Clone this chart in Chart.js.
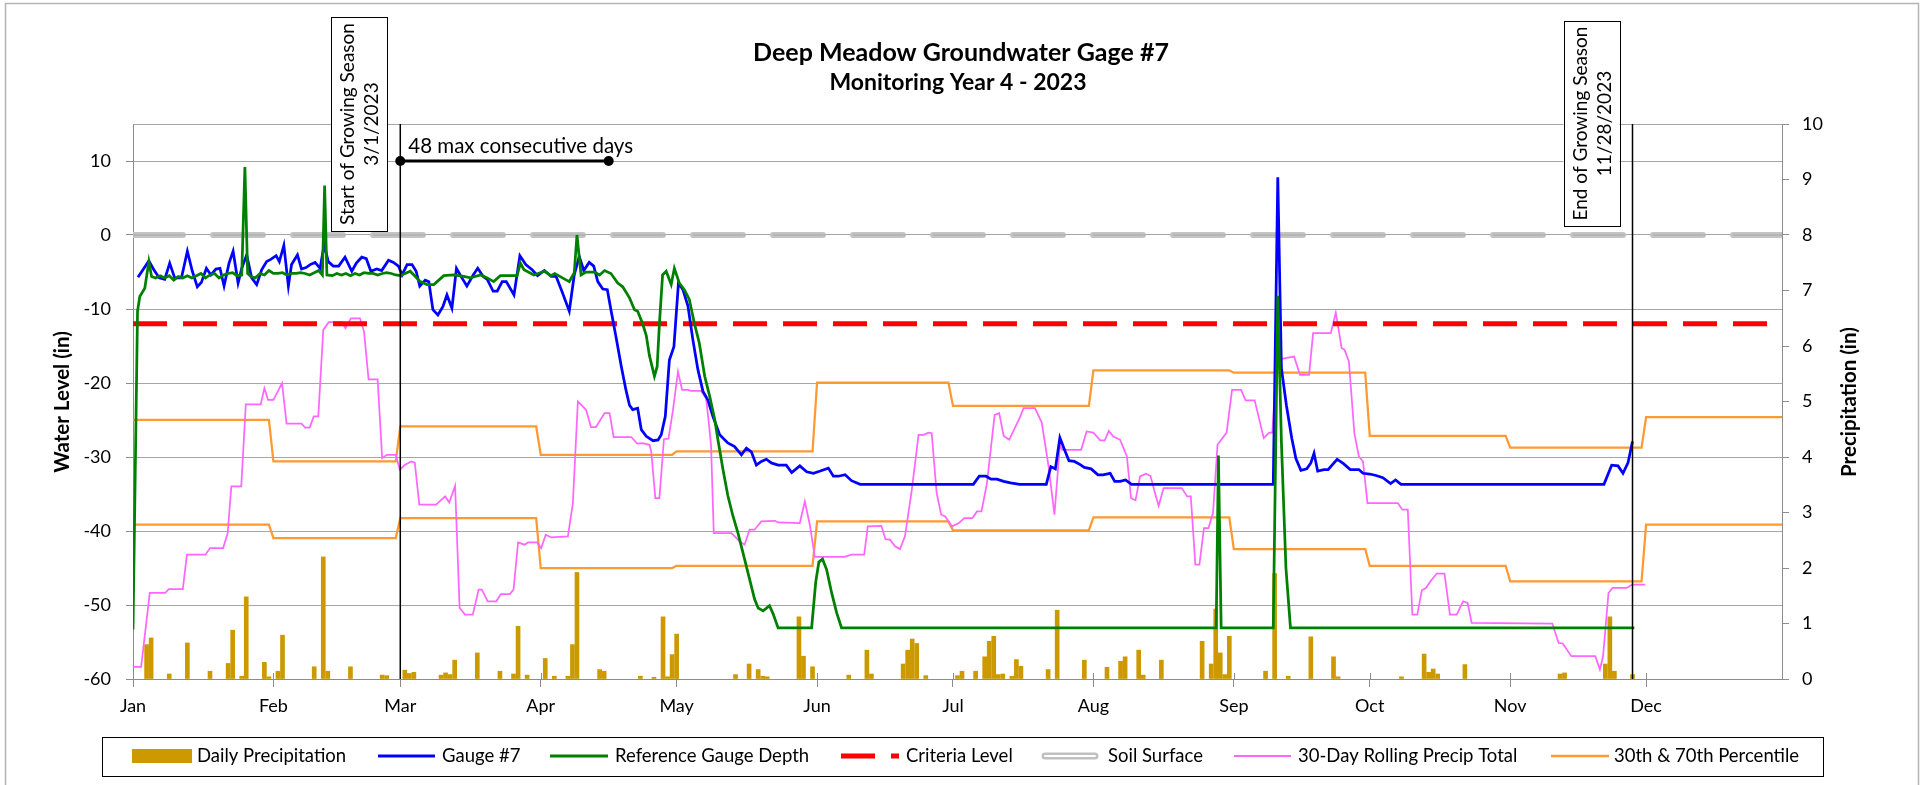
<!DOCTYPE html>
<html>
<head>
<meta charset="utf-8">
<title>Deep Meadow Groundwater Gage #7</title>
<script src="https://cdn.jsdelivr.net/npm/chart.js@4.4.1/dist/chart.umd.min.js"></script>
<style>
  html, body { margin: 0; padding: 0; background: #fff; }
  #wrap { width: 1929px; height: 785px; position: relative; }
</style>
</head>
<body>
<div id="wrap"><canvas id="gage"></canvas></div>
<script>
// x values are day-of-year offsets (0 = Jan 1, 2023)
const monthStarts = [0, 31, 59, 90, 120, 151, 181, 212, 243, 273, 304, 334];
const monthLabels = ['Jan', 'Feb', 'Mar', 'Apr', 'May', 'Jun', 'Jul', 'Aug', 'Sep', 'Oct', 'Nov', 'Dec'];

const gaugeDays = [1.1, 3.5, 4.6, 5.8, 7.0, 8.1, 9.2, 10.7, 12.0, 13.1, 14.2, 15.1, 16.2, 17.2, 18.3, 19.2, 20.1, 21.2, 22.1, 23.2, 24.0, 25.1, 26.2, 27.3, 28.4, 29.5, 30.4, 31.6, 32.3, 33.3, 34.3, 35.0, 36.3, 37.2, 38.2, 39.1, 40.2, 41.3, 42.2, 43.1, 44.2, 45.4, 46.8, 48.3, 49.3, 50.5, 51.5, 52.5, 53.8, 54.9, 56.4, 57.5, 58.6, 59.4, 60.5, 61.6, 62.5, 63.3, 64.5, 65.3, 66.2, 67.3, 68.4, 69.3, 70.4, 71.4, 72.6, 73.7, 75.1, 76.1, 77.3, 78.2, 79.5, 80.4, 81.5, 82.4, 84.1, 85.4, 86.7, 88.1, 89.3, 90.8, 92.3, 93.4, 94.8, 96.3, 97.4, 98.5, 99.5, 100.7, 101.7, 102.6, 103.7, 104.7, 105.5, 106.6, 107.8, 108.8, 109.6, 110.3, 111.4, 112.2, 113.3, 114.8, 115.9, 116.6, 117.5, 118.4, 119.4, 120.4, 121.4, 122.5, 123.6, 124.7, 125.8, 126.9, 128.0, 129.5, 131.3, 132.8, 134.3, 135.4, 136.5, 137.6, 138.7, 139.8, 140.9, 142.4, 144.2, 145.4, 147.2, 148.7, 150.2, 151.7, 153.5, 154.6, 155.7, 157.2, 158.6, 160.5, 185.5, 186.8, 188.3, 189.4, 190.7, 192.2, 193.7, 195.7, 201.6, 202.6, 203.6, 204.6, 205.6, 206.6, 207.8, 209.0, 210.0, 211.5, 213.0, 214.1, 215.7, 216.7, 217.9, 219.1, 220.4, 251.7, 252.7, 253.5, 254.6, 255.8, 256.7, 257.8, 259.1, 260.0, 260.7, 261.5, 262.9, 263.8, 265.8, 267.2, 268.7, 270.6, 271.5, 273.0, 274.4, 275.9, 277.6, 278.7, 279.9, 324.7, 326.4, 327.8, 328.9, 330.0, 331.0];
const gaugeLevels = [-5.7, -3.5, -4.7, -5.8, -6.0, -3.8, -5.8, -5.8, -2.2, -4.9, -7.0, -6.4, -4.5, -5.4, -4.6, -4.5, -6.9, -3.8, -2.2, -6.5, -4.5, -2.7, -5.8, -6.7, -4.7, -3.6, -3.3, -2.8, -3.6, -1.4, -6.9, -4.0, -2.7, -4.6, -4.4, -4.0, -3.7, -4.5, -1.3, -3.6, -4.2, -4.2, -3.0, -4.9, -3.8, -3.0, -3.2, -4.9, -4.6, -4.8, -3.4, -3.7, -4.2, -5.4, -4.0, -4.0, -4.9, -6.9, -6.1, -6.3, -10.1, -10.8, -9.7, -8.1, -9.9, -4.5, -5.8, -6.9, -5.4, -4.5, -5.6, -6.0, -7.6, -7.6, -6.3, -6.3, -8.1, -2.8, -4.0, -4.7, -5.5, -4.8, -5.6, -5.6, -7.8, -10.3, -5.4, -2.9, -4.8, -3.7, -4.2, -6.3, -7.3, -7.4, -10.1, -13.7, -17.8, -20.9, -23.0, -23.6, -23.4, -26.3, -27.2, -27.8, -27.7, -27.0, -24.5, -16.9, -15.1, -6.5, -7.4, -9.6, -14.2, -18.2, -21.1, -22.3, -24.5, -27.0, -28.1, -28.6, -29.7, -28.8, -29.3, -31.1, -30.6, -30.3, -30.8, -31.1, -31.1, -32.1, -31.2, -32.0, -32.2, -31.9, -31.5, -32.6, -32.6, -32.4, -33.2, -33.7, -33.7, -32.6, -32.6, -33.0, -33.0, -33.3, -33.5, -33.7, -33.7, -31.3, -31.6, -27.4, -29.0, -30.5, -30.6, -31.0, -31.4, -31.6, -32.4, -32.4, -32.2, -33.3, -33.3, -33.1, -33.7, -33.7, 7.8, -18.0, -23.0, -27.5, -30.2, -31.8, -31.6, -30.8, -29.5, -31.9, -31.7, -31.7, -30.3, -30.9, -31.7, -31.7, -32.2, -32.3, -32.5, -32.8, -33.6, -33.1, -33.7, -33.7, -31.1, -31.2, -32.2, -30.8, -27.9];

const refDays = [0, 1.0, 1.5, 2.6, 3.5, 4.1, 5, 6, 7, 8, 9, 10, 11, 12, 13, 14, 15, 16, 17, 18, 19, 20, 21, 22, 23, 24, 24.7, 25.3, 26, 27, 28, 29, 30, 31, 32, 33, 34, 35, 36, 37, 38, 39, 40, 41, 41.8, 42.3, 42.8, 44, 45, 46, 47, 48, 49, 50, 51, 52, 53, 54, 55, 56, 57, 58, 59, 61.2, 63.4, 64.9, 66.4, 67.5, 68.6, 70.8, 73, 74.5, 76.7, 78.2, 79.6, 81.1, 83.3, 84.8, 85.5, 86.3, 88.5, 90.8, 92.3, 93.1, 94.8, 96.3, 97.4, 98, 98.9, 100, 101.9, 103, 104.1, 105.5, 107, 108.1, 109.6, 110.7, 111.4, 112.5, 113.3, 114, 115.1, 115.7, 116.2, 116.9, 117.7, 118.8, 119.5, 120.6, 121.7, 122.8, 123.9, 125, 126.2, 127.3, 128.4, 129.1, 130.2, 131.3, 132.4, 133.5, 135, 136.1, 137.2, 138, 139.1, 140.5, 141.3, 142.4, 149.8, 150.7, 151.4, 152.2, 153.1, 154.2, 155.3, 156.4, 239.1, 239.6, 240.2, 251.7, 252.7, 253.5, 254.5, 255.5, 331.4];
const refLevels = [-53.3, -10.3, -8.3, -7.2, -3.6, -5.6, -5.8, -5.5, -5.8, -5.5, -6.1, -5.6, -5.8, -5.5, -5.8, -5.5, -5.2, -5.8, -5.4, -5.2, -5.8, -5.4, -5.2, -5.1, -5.5, -5.4, 9.2, -5.2, -5.6, -5.8, -5.2, -5.4, -4.8, -5.2, -5.2, -5.1, -5.4, -5.2, -5.2, -5.1, -5.2, -5.4, -5.1, -4.8, -5.4, 6.7, -5.4, -5.5, -5.2, -5.4, -5.2, -5.5, -5.2, -5.4, -5.1, -5.2, -5.2, -5.4, -5.2, -5.1, -5.2, -5.4, -5.5, -4.9, -6.3, -6.7, -6.7, -6.1, -5.5, -5.4, -5.6, -5.8, -5.4, -5.8, -6.3, -5.5, -5.5, -5.5, -3.8, -4.7, -5.4, -4.9, -5.5, -5.2, -5.8, -6.3, -5.1, 0, -5.4, -5.0, -5.0, -5.4, -4.8, -5.2, -6.5, -7.0, -8.5, -10.1, -10.3, -12.0, -13.6, -16.3, -19.1, -17.8, -12.0, -5.4, -4.9, -6.7, -4.5, -6.5, -7.4, -8.7, -11.9, -14.6, -19.1, -21.8, -24.9, -27.6, -31.6, -35.2, -37.9, -40.2, -43.8, -46.5, -49.2, -50.4, -50.8, -50.1, -51.2, -53.1, -53.1, -46.9, -44.2, -43.8, -45.2, -48.3, -51.0, -53.1, -53.1, -29.8, -53.1, -53.1, -8.2, -28.0, -45.0, -53.1, -53.1];

const precipDays = [3, 4, 8, 12, 17, 21, 22, 24, 25, 29, 30, 32, 33, 40, 42, 43, 48, 55, 56, 60, 61, 62, 68, 69, 70, 71, 76, 81, 84, 85, 87, 91, 93, 96, 97, 98, 103, 104, 112, 115, 117, 118, 119, 120, 133, 136, 138, 139, 140, 147, 148, 150, 158, 162, 163, 170, 171, 172, 173, 175, 182, 183, 186, 188, 189, 190, 191, 192, 194, 195, 196, 202, 204, 210, 215, 218, 219, 222, 223, 227, 236, 238, 239, 240, 241, 242, 250, 252, 255, 260, 265, 266, 280, 285, 286, 287, 288, 294, 315, 316, 325, 326, 327, 331];
const precipInches = [0.62, 0.74, 0.09, 0.65, 0.14, 0.28, 0.88, 0.05, 1.48, 0.30, 0.04, 0.14, 0.79, 0.22, 2.20, 0.14, 0.22, 0.07, 0.06, 0.16, 0.10, 0.12, 0.07, 0.11, 0.08, 0.34, 0.47, 0.14, 0.09, 0.95, 0.07, 0.37, 0.05, 0.05, 0.62, 1.92, 0.17, 0.14, 0.05, 0.03, 1.12, 0.04, 0.44, 0.81, 0.08, 0.27, 0.17, 0.05, 0.04, 1.12, 0.41, 0.22, 0.07, 0.52, 0.09, 0.27, 0.52, 0.72, 0.64, 0.06, 0.06, 0.14, 0.14, 0.40, 0.68, 0.77, 0.08, 0.09, 0.05, 0.35, 0.23, 0.17, 1.24, 0.34, 0.21, 0.32, 0.40, 0.52, 0.07, 0.34, 0.68, 0.27, 1.26, 0.47, 0.08, 0.77, 0.14, 1.90, 0.05, 0.76, 0.40, 0.04, 0.04, 0.45, 0.12, 0.18, 0.09, 0.26, 0.09, 0.11, 0.27, 1.12, 0.14, 0.08];

const rollDays = [0, 1.8, 3.7, 7.1, 7.9, 11, 11.9, 16, 17, 19.9, 20.9, 21.7, 23.9, 24.9, 28.2, 29, 29.8, 31, 32.9, 33.9, 37.2, 38, 39, 39.9, 40.9, 42, 43.2, 46.1, 46.9, 48.1, 50.1, 51, 52, 54, 55, 56, 58, 58.9, 59.9, 61.4, 62.2, 63.2, 66.9, 68.9, 69.8, 71.1, 72.1, 73.3, 75, 76.3, 77, 78.3, 80.2, 81.2, 83.2, 84, 85, 86.4, 87.2, 89.2, 90.1, 91.1, 92.3, 96, 97.1, 98.2, 100, 101.1, 102.2, 104.1, 105.2, 106.1, 110, 111.3, 112.5, 114, 114.4, 115.3, 116.2, 117.2, 118.2, 119.2, 120.3, 121.2, 122.5, 123.2, 125.4, 126.5, 127, 127.6, 128.2, 132.1, 133.9, 135, 136.1, 137.2, 138.7, 141.7, 142.4, 147.2, 148.3, 149.4, 150.5, 157.1, 158.6, 161.4, 162.2, 165.2, 166.1, 167.1, 168.2, 169.3, 170.4, 171.9, 173.4, 174.5, 175.6, 176.3, 177.4, 178.4, 179.3, 180.8, 182.3, 183.5, 185.3, 186.3, 187.3, 188.5, 190.2, 191.2, 192.2, 193.4, 195.7, 196.6, 199.1, 200.6, 202.1, 203.4, 204.6, 205.1, 209.3, 210.5, 212, 213.5, 214.5, 215.4, 216.4, 217.9, 219.4, 220.3, 221.3, 222.3, 223.6, 224.6, 225.8, 226.4, 227.5, 231.5, 232.7, 233.5, 234.5, 235.4, 236.4, 237.4, 238.4, 239.4, 241.4, 242.6, 244.6, 245.6, 247.6, 249.6, 250.8, 251.5, 252.5, 253.5, 256.3, 257.6, 259.6, 260.5, 264.4, 265.5, 266.8, 267.4, 268.4, 269.6, 270.6, 271.5, 272.5, 279.2, 280.2, 281.4, 282.4, 283.5, 284.5, 285.4, 286.4, 287.8, 289.5, 290.7, 292.2, 293.6, 294.6, 295.5, 313.3, 314.7, 315.6, 317.5, 322.8, 323.8, 324.5, 325.7, 326.6, 329.7, 330.9, 333.8];
const rollTotals = [0.22, 0.22, 1.55, 1.55, 1.62, 1.62, 2.24, 2.24, 2.36, 2.36, 2.63, 3.47, 3.47, 4.95, 4.95, 5.24, 5.03, 5.03, 5.33, 4.60, 4.60, 4.53, 4.53, 4.73, 4.73, 6.29, 6.43, 6.43, 6.32, 6.50, 6.50, 6.26, 5.40, 5.40, 3.98, 4.04, 4.04, 3.77, 3.85, 3.92, 3.90, 3.14, 3.14, 3.29, 3.18, 3.48, 1.28, 1.16, 1.16, 1.61, 1.61, 1.40, 1.40, 1.53, 1.53, 1.61, 2.46, 2.42, 2.46, 2.46, 2.36, 2.60, 2.55, 2.57, 3.17, 5.00, 4.85, 4.54, 4.54, 4.79, 4.79, 4.36, 4.36, 4.24, 4.25, 4.22, 4.10, 3.26, 3.26, 4.32, 4.33, 4.85, 5.54, 5.21, 5.21, 5.19, 5.19, 5.06, 4.70, 4.20, 2.63, 2.63, 2.48, 2.42, 2.69, 2.69, 2.84, 2.85, 2.82, 2.81, 3.20, 2.78, 2.20, 2.20, 2.24, 2.24, 2.75, 2.76, 2.52, 2.51, 2.39, 2.34, 2.57, 3.40, 4.40, 4.40, 4.44, 4.43, 3.35, 2.96, 2.93, 2.75, 2.81, 2.90, 2.90, 3.02, 3.02, 3.53, 4.76, 4.79, 4.38, 4.31, 4.70, 4.88, 4.88, 4.62, 3.83, 2.96, 4.22, 4.13, 4.13, 4.46, 4.44, 4.30, 4.30, 4.47, 4.37, 4.31, 4.01, 3.26, 3.22, 3.65, 3.70, 3.66, 3.29, 3.12, 3.44, 3.44, 3.29, 3.29, 2.06, 2.06, 2.72, 2.72, 2.99, 4.22, 4.44, 5.21, 5.21, 5.02, 5.02, 4.34, 4.44, 4.44, 5.82, 5.77, 5.81, 5.48, 5.48, 6.23, 6.23, 6.60, 5.96, 5.94, 5.72, 4.43, 4.01, 3.92, 3.17, 3.17, 3.05, 3.05, 1.16, 1.16, 1.60, 1.64, 1.76, 1.90, 1.90, 1.16, 1.16, 1.40, 1.37, 1.01, 1.00, 0.65, 0.64, 0.41, 0.41, 0.17, 0.41, 1.55, 1.64, 1.64, 1.70, 1.70];

// monthly 70th / 30th percentile of 30-day precip (in)
const pct70 = [4.67, 3.92, 4.55, 4.04, 4.10, 5.34, 4.92, 5.56, 5.52, 4.38, 4.17, 4.72];
const pct30 = [2.78, 2.54, 2.90, 2.00, 2.04, 2.84, 2.68, 2.91, 2.34, 2.04, 1.76, 2.78];

const criteriaLevel = -12;
const soilSurface = 0;
const seasonStartDay = 59;   // 3/1/2023
const seasonEndDay = 331;    // 11/28/2023
const consecutiveRun = [59, 105];
const consecutiveLevel = 10;
const yearEnd = 364;

const toPts = (xs, ys) => xs.map((d, i) => ({ x: d, y: ys[i] }));
const monthSteps = vals => {
    const pts = [];
    vals.forEach((v, i) => {
        const end = i < 11 ? monthStarts[i + 1] - 1 : yearEnd;
        pts.push({ x: monthStarts[i], y: v }, { x: end, y: v });
    });
    return pts;
};

const FONT = 'Lato, "Open Sans", sans-serif';
const GRID = '#a6a6a6';
const AXIS = '#8c8c8c';

const decor = {
    id: 'decor',
    beforeDatasetsDraw(chart) {
        const { ctx, chartArea: a, scales: { x } } = chart;
        ctx.save();
        ctx.strokeStyle = AXIS;
        ctx.lineWidth = 1;
        monthStarts.forEach(d => {
            const px = Math.round(x.getPixelForValue(d)) + 0.5;
            ctx.beginPath();
            ctx.moveTo(px, a.bottom - 6);
            ctx.lineTo(px, a.bottom);
            ctx.stroke();
        });
        ctx.restore();
    },
    afterDatasetsDraw(chart) {
        const { ctx, chartArea: a, scales: { x, y } } = chart;
        ctx.save();
        ctx.strokeStyle = '#000';
        ctx.lineWidth = 1.5;
        [seasonStartDay, seasonEndDay].forEach(d => {
            const px = x.getPixelForValue(d);
            ctx.beginPath();
            ctx.moveTo(px, a.top);
            ctx.lineTo(px, a.bottom);
            ctx.stroke();
        });

        const box = (d, top, bottom, l1, l2) => {
            const right = x.getPixelForValue(d) - 13;
            const left = right - 56;
            ctx.fillStyle = '#fff';
            ctx.fillRect(left, top, 56, bottom - top);
            ctx.strokeStyle = '#000';
            ctx.lineWidth = 1;
            ctx.strokeRect(Math.round(left) + 0.5, top + 0.5, 56, bottom - top);
            ctx.save();
            ctx.translate(left + 29, (top + bottom) / 2);
            ctx.rotate(-Math.PI / 2);
            ctx.fillStyle = '#000';
            ctx.font = '19px ' + FONT;
            ctx.textAlign = 'center';
            ctx.textBaseline = 'middle';
            ctx.fillText(l1, 0, -12);
            ctx.fillText(l2, 0, 12);
            ctx.restore();
        };
        box(seasonStartDay, 17, 231, 'Start of Growing Season', '3/1/2023');
        box(seasonEndDay, 21, 226, 'End of Growing Season', '11/28/2023');

        ctx.fillStyle = '#000';
        ctx.font = '20.5px ' + FONT;
        ctx.textAlign = 'left';
        ctx.textBaseline = 'alphabetic';
        ctx.fillText('48 max consecutive days', x.getPixelForValue(consecutiveRun[0]) + 8, y.getPixelForValue(consecutiveLevel) - 8);
        ctx.restore();
    },
    afterDraw(chart) {
        const { ctx } = chart;
        ctx.save();
        // outer chart border
        ctx.strokeStyle = '#b4b4b4';
        ctx.lineWidth = 1.5;
        ctx.strokeRect(5.5, 3.5, 1913, 820);

        ctx.fillStyle = '#000';
        ctx.textAlign = 'center';
        ctx.textBaseline = 'middle';
        ctx.font = 'bold 25px ' + FONT;
        ctx.fillText('Deep Meadow Groundwater Gage #7', 961, 53);
        ctx.font = 'bold 23px ' + FONT;
        ctx.fillText('Monitoring Year 4 - 2023', 958, 83);

        ctx.font = 'bold 20.5px ' + FONT;
        [[62, 'Water Level (in)'], [1849, 'Precipitation (in)']].forEach(([cx, t]) => {
            ctx.save();
            ctx.translate(cx, 402);
            ctx.rotate(-Math.PI / 2);
            ctx.fillText(t, 0, 0);
            ctx.restore();
        });

        // legend
        ctx.strokeStyle = '#000';
        ctx.lineWidth = 1;
        ctx.strokeRect(102.5, 737.5, 1721, 39);
        const ly = 756;
        ctx.fillStyle = '#cc9900';
        ctx.fillRect(132, 749, 60, 14);
        const seg = (x1, x2, color, w, dash) => {
            ctx.save();
            ctx.strokeStyle = color;
            ctx.lineWidth = w;
            ctx.setLineDash(dash || []);
            ctx.beginPath();
            ctx.moveTo(x1, ly);
            ctx.lineTo(x2, ly);
            ctx.stroke();
            ctx.restore();
        };
        seg(378, 435, '#0000ff', 3);
        seg(550, 608, '#008000', 3);
        seg(841, 899, '#ff0000', 5, [34, 16]);
        ctx.save();
        ctx.lineCap = 'round';
        ctx.strokeStyle = '#c0c0c0';
        ctx.lineWidth = 7;
        ctx.beginPath(); ctx.moveTo(1045, ly); ctx.lineTo(1095, ly); ctx.stroke();
        ctx.strokeStyle = '#fff';
        ctx.lineWidth = 2;
        ctx.beginPath(); ctx.moveTo(1045, ly); ctx.lineTo(1095, ly); ctx.stroke();
        ctx.restore();
        seg(1234, 1291, '#ff66ff', 2);
        seg(1551, 1609, '#ff9933', 2.5);

        ctx.fillStyle = '#000';
        ctx.font = '18.5px ' + FONT;
        ctx.textAlign = 'left';
        ctx.textBaseline = 'middle';
        [[197, 'Daily Precipitation'], [442, 'Gauge #7'], [615, 'Reference Gauge Depth'],
         [906, 'Criteria Level'], [1108, 'Soil Surface'], [1298, '30-Day Rolling Precip Total'],
         [1614, '30th & 70th Percentile']].forEach(([lx, t]) => ctx.fillText(t, lx, ly));
        ctx.restore();
    }
};

const line = (label, data, color, width, order, extra) => Object.assign({
    type: 'line', label, data, borderColor: color, backgroundColor: color,
    borderWidth: width, pointRadius: 0, tension: 0, fill: false, order, yAxisID: 'y'
}, extra || {});

new Chart(document.getElementById('gage'), {
    type: 'line',
    data: {
        datasets: [
            line('48 max consecutive days', consecutiveRun.map(d => ({ x: d, y: consecutiveLevel })), '#000', 3, 0,
                { pointRadius: 5, pointBackgroundColor: '#000', pointBorderWidth: 0 }),
            line('Reference Gauge Depth', toPts(refDays, refLevels), '#008000', 2.75, 1),
            line('Gauge #7', toPts(gaugeDays, gaugeLevels), '#0000ff', 2.75, 2),
            line('Criteria Level', [{ x: 0, y: criteriaLevel }, { x: yearEnd, y: criteriaLevel }], '#ff0000', 5, 3,
                { borderDash: [34, 16] }),
            line('Soil Surface inner', [{ x: 0, y: soilSurface }, { x: yearEnd, y: soilSurface }], GRID, 1.2, 4,
                { borderDash: [52, 28] }),
            line('Soil Surface', [{ x: 0, y: soilSurface }, { x: yearEnd, y: soilSurface }], '#c4c4c4', 6, 5,
                { borderDash: [50, 30], borderCapStyle: 'round' }),
            line('30-Day Rolling Precip Total', toPts(rollDays, rollTotals), '#ff66ff', 1.75, 6, { yAxisID: 'y2' }),
            line('70th Percentile', monthSteps(pct70), '#ff9933', 2.25, 7, { yAxisID: 'y2' }),
            line('30th Percentile', monthSteps(pct30), '#ff9933', 2.25, 8, { yAxisID: 'y2' }),
            {
                type: 'bar', label: 'Daily Precipitation', data: toPts(precipDays, precipInches),
                backgroundColor: '#cc9900', barThickness: 4, yAxisID: 'y2', order: 10
            }
        ]
    },
    options: {
        responsive: true,
        maintainAspectRatio: false,
        devicePixelRatio: 1,
        animation: false,
        events: [],
        layout: { padding: { top: 124, left: 0, right: 0, bottom: 0 } },
        font: { family: FONT },
        plugins: {
            legend: { display: false },
            title: { display: false },
            tooltip: { enabled: false }
        },
        scales: {
            x: {
                type: 'linear',
                min: 0,
                max: yearEnd,
                offset: false,
                grid: { offset: false, drawOnChartArea: false, drawTicks: true, tickLength: 8, color: AXIS },
                border: { color: AXIS, width: 1 },
                afterBuildTicks: s => { s.ticks = monthStarts.map(v => ({ value: v })); },
                afterFit: s => { s.height = 106; },
                ticks: {
                    autoSkip: false, maxRotation: 0, padding: 8, color: '#000',
                    font: { family: FONT, size: 18 },
                    callback: (v, i) => monthLabels[i]
                }
            },
            y: {
                type: 'linear',
                position: 'left',
                min: -60,
                max: 15,
                grid: {
                    color: GRID, lineWidth: 1, tickLength: 7,
                    tickColor: c => (c.tick && c.tick.value === 15) ? 'rgba(0,0,0,0)' : AXIS
                },
                border: { color: AXIS, width: 1 },
                afterFit: s => { s.width = 133; },
                ticks: {
                    stepSize: 10, padding: 15, color: '#000',
                    font: { family: FONT, size: 18 },
                    callback: v => (v === 15 ? '' : String(v))
                }
            },
            y2: {
                type: 'linear',
                position: 'right',
                min: 0,
                max: 10,
                grid: { drawOnChartArea: false, tickLength: 7, color: AXIS },
                border: { color: AXIS, width: 1 },
                afterFit: s => { s.width = 147; },
                ticks: {
                    stepSize: 1, padding: 13, color: '#000',
                    font: { family: FONT, size: 18 }
                }
            }
        }
    },
    plugins: [decor]
});
</script>
</body>
</html>
